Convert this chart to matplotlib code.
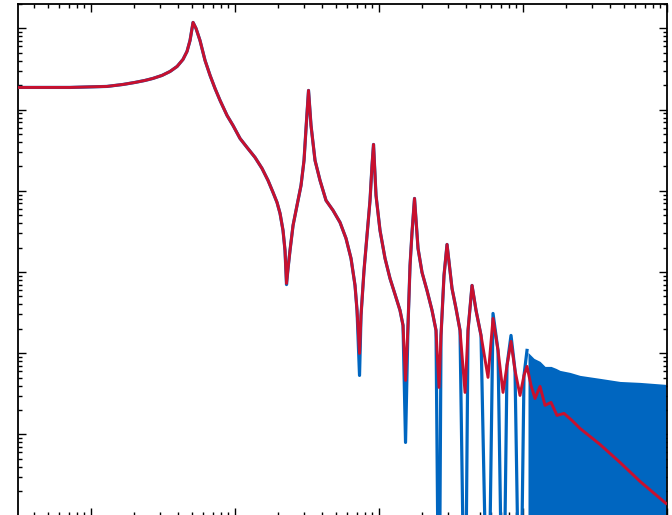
import matplotlib
matplotlib.use("Agg")
import matplotlib.pyplot as plt
from matplotlib.ticker import LogLocator, NullFormatter

# ---- data ----
freq = [3.112, 7.15, 12.9, 16.7, 20.2, 23.7, 26.9, 31.1, 35.4, 39.6, 43.5, 46.4, 48.7,
        51.1, 53.6, 57.1, 61.9, 67.1, 72.6, 78.7, 88.0, 96.8, 108.3, 121.2, 137.7,
        154.0, 169.5, 183.6, 195.7, 205.4, 215.4, 222.4, 227.8, 233.4, 240.9, 252.9,
        269.5, 287.3, 301.4, 311.2, 323.9, 337.1, 359.4, 389.3, 428.5, 479.4, 536.1,
        589.9, 639.0, 681.3, 703.5, 732.2, 749.9, 786.6, 825.3, 865.9, 894.1, 915.8,
        953.2, 1016, 1101, 1192, 1292, 1399, 1468, 1528, 1590, 1642, 1695, 1764, 1866,
        1989, 2154, 2334, 2488, 2610, 2695, 2827, 2967, 3213, 3425, 3652, 3957, 4151,
        4425, 4718, 5109, 5714, 6190, 6705, 7264, 7743, 8254, 8799, 9532, 10160, 10660,
        11370, 12120, 13130, 14220, 15650, 17220, 19260, 21890, 24880, 34250, 47170,
        64940, 98420]

model = [0.1877, 0.1877, 0.1931, 0.2043, 0.2163, 0.2289, 0.2423, 0.2638, 0.2954, 0.3404,
         0.4151, 0.5208, 0.7115, 1.186, 1.0, 0.7115, 0.4036, 0.2638, 0.1825, 0.1299,
         0.0848, 0.0639, 0.04418, 0.03423, 0.02578, 0.01887, 0.01343, 0.00956, 0.00720,
         0.00527, 0.003253, 0.001845, 0.000724, 0.001107, 0.001845, 0.003750, 0.006612,
         0.01166, 0.02368, 0.0587, 0.1724, 0.0639, 0.02368, 0.01343, 0.00762, 0.00574,
         0.00408, 0.002594, 0.001471, 0.000684, 0.000337, 9.94e-5, 0.000292, 0.001046,
         0.002823, 0.00762, 0.02055, 0.03727, 0.00878, 0.003253, 0.001471, 0.000834,
         0.000530, 0.000337, 0.00022, 4.62e-5, 0.00022, 0.001206, 0.003073, 0.00806,
         0.001953, 0.000989, 0.000593, 0.000337, 0.000191, 3.79e-5, 0.0001656, 0.000908,
         0.002187, 0.000628, 0.000356, 0.000191, 3.29e-5, 0.000191, 0.000684, 0.000337,
         0.0001656, 5.04e-5, 0.000268, 0.0001083, 3.29e-5, 7.07e-5, 0.0001397, 6.14e-5,
         3.02e-5, 5.33e-5, 6.88e-5, 4.01e-5, 2.77e-5, 3.90e-5, 2.28e-5, 2.48e-5,
         1.714e-5, 1.814e-5, 1.487e-5, 1.186e-5, 7.53e-6, 4.52e-6, 2.64e-6, 1.413e-6]

measured = [0.1877, 0.1877, 0.1931, 0.2043, 0.2163, 0.2289, 0.2423, 0.2638, 0.2954, 0.3404,
            0.4151, 0.5208, 0.7115, 1.186, 1.0, 0.7115, 0.4036, 0.2638, 0.1825, 0.1299,
            0.0848, 0.0639, 0.04418, 0.03423, 0.02578, 0.01887, 0.01343, 0.00956, 0.00720,
            0.00527, 0.003253, 0.001845, 0.000700, 0.001107, 0.001845, 0.003750, 0.006612,
            0.01166, 0.02368, 0.0587, 0.1724, 0.0639, 0.02368, 0.01343, 0.00762, 0.00574,
            0.00408, 0.002594, 0.001471, 0.000684, 0.000337, 5.33e-5, 0.000292, 0.001046,
            0.002823, 0.00762, 0.02055, 0.03727, 0.00878, 0.003253, 0.001471, 0.000834,
            0.000530, 0.000337, 0.00022, 7.97e-6, 0.00022, 0.001206, 0.003073, 0.00806,
            0.001953, 0.000989, 0.000593, 0.000337, 0.000191, 1e-8, 0.0001656, 0.000908,
            0.002187, 0.000628, 0.000356, 0.000191, 1e-8, 0.000191, 0.000684, 0.000337,
            0.0001656, 1e-8, 0.000309, 0.0001083, 1e-8, 7.07e-5, 0.0001656, 6.14e-5,
            1e-8, 5.33e-5, 0.0001083]

band_freq = [10830, 11920, 13130, 14220, 15650, 16950, 18070, 21200, 24880, 34250,
             47170, 64940, 98420]
band_top = [1.023e-4, 8.63e-5, 7.93e-5, 6.88e-5, 6.88e-5, 6.50e-5, 6.14e-5, 5.80e-5,
            5.33e-5, 4.90e-5, 4.49e-5, 4.37e-5, 4.13e-5]

xlim = (3.11, 1.0e5)
ylim = (1.0e-6, 2.0)

BLUE = "#0066C0"
RED = "#C8102E"

fig = plt.figure(figsize=(6.72, 5.15), dpi=100)
ax = fig.add_axes([18 / 672, 1 - 515.6 / 515, 649 / 672, 511.6 / 515])

ax.fill_between(band_freq, band_top, 1e-9, color=BLUE, lw=0, zorder=2)
ax.plot(freq[:len(measured)], measured, color=BLUE, lw=2.3, zorder=3)
ax.plot(freq, model, color=RED, lw=2.1, zorder=4)

ax.set_xscale("log")
ax.set_yscale("log")
ax.set_xlim(*xlim)
ax.set_ylim(*ylim)

for axis in (ax.xaxis, ax.yaxis):
    axis.set_major_locator(LogLocator(base=10, numticks=20))
    axis.set_minor_locator(LogLocator(base=10, subs=range(2, 10), numticks=20))
    axis.set_major_formatter(NullFormatter())
    axis.set_minor_formatter(NullFormatter())

ax.tick_params(which="both", direction="in", top=True, right=True,
               labelbottom=False, labelleft=False, color="black", width=1.0)
ax.tick_params(which="major", length=5.5)
ax.tick_params(which="minor", length=3.0)
for s in ax.spines.values():
    s.set_linewidth(1.3)
ax.spines["bottom"].set_visible(False)

fig.savefig("out.png", dpi=100)
